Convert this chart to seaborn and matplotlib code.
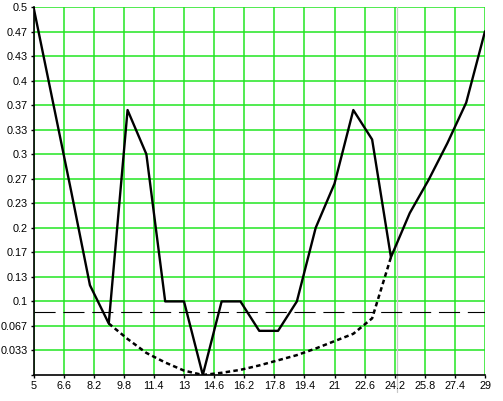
import numpy as np
import pandas as pd
import matplotlib
matplotlib.use("Agg")
import matplotlib.pyplot as plt
import seaborn as sns

# ---- data ----
x_solid = [5, 6, 7, 8, 9, 10, 11, 12, 13, 14, 15, 16, 17, 18, 19, 20, 21, 22, 23, 24, 25, 26, 27, 28, 29]
y_solid = [0.5, 0.375, 0.25, 0.122, 0.07, 0.36, 0.3, 0.1, 0.1, 0.0, 0.1, 0.1, 0.06, 0.06, 0.1,
           0.2, 0.26, 0.36, 0.32, 0.16, 0.22, 0.265, 0.315, 0.37, 0.467]

x_dotted = [9, 10, 11, 12, 13, 14, 15, 16, 17, 18, 19, 20, 21, 22, 23, 24]
y_dotted = [0.07, 0.049, 0.03, 0.017, 0.006, 0.0, 0.003, 0.007, 0.013, 0.02, 0.027,
            0.036, 0.046, 0.056, 0.077, 0.16]

threshold = 0.085
marker_x = 24.3

x_ticks = [5, 6.6, 8.2, 9.8, 11.4, 13, 14.6, 16.2, 17.8, 19.4, 21, 22.6, 24.2, 25.8, 27.4, 29]
x_tick_labels = ["5", "6.6", "8.2", "9.8", "11.4", "13", "14.6", "16.2", "17.8", "19.4",
                 "21", "22.6", "24.2", "25.8", "27.4", "29"]
y_ticks = [0, 1/30, 2/30, 3/30, 4/30, 5/30, 6/30, 7/30, 8/30, 9/30, 10/30, 11/30, 12/30, 13/30, 14/30, 15/30]
y_tick_labels = ["", "0.033", "0.067", "0.1", "0.13", "0.17", "0.2", "0.23", "0.27", "0.3",
                 "0.33", "0.37", "0.4", "0.43", "0.47", "0.5"]

sns.set_style("white")
plt.rcParams['font.family'] = ['Liberation Sans', 'DejaVu Sans']

fig = plt.figure(figsize=(5.03, 4.01), dpi=100)
ax = fig.add_axes([33.5/503, 26/401, (485-33.5)/503, (375-7)/401])

df_s = pd.DataFrame({"x": x_solid, "y": y_solid})
df_d = pd.DataFrame({"x": x_dotted, "y": y_dotted})

grid_color = "#22e622"
for xt in x_ticks:
    ax.axvline(xt, color=grid_color, lw=1.1, zorder=0)
for yt in y_ticks[1:]:
    ax.axhline(yt, color=grid_color, lw=1.1, zorder=0)

ax.axvline(marker_x, ymin=-0.045, ymax=1, color="#c8c8c8", lw=0.9, zorder=0.5, clip_on=False)

ax.axhline(threshold, color="black", lw=0.8, dashes=(19, 7), zorder=2)

sns.lineplot(data=df_s, x="x", y="y", ax=ax, color="black", lw=1.7, estimator=None,
             sort=False, zorder=3)
sns.lineplot(data=df_d, x="x", y="y", ax=ax, color="black", lw=1.8, estimator=None,
             sort=False, zorder=3, dashes=False)
ax.lines[-1].set_dashes((1.8, 1.3))

ax.set_xlim(5, 29)
ax.set_ylim(0, 0.5)
ax.set_xticks(x_ticks)
ax.set_xticklabels(x_tick_labels)
ax.set_yticks(y_ticks)
ax.set_yticklabels(y_tick_labels)
ax.set_xlabel("")
ax.set_ylabel("")

for s in ["top", "right"]:
    ax.spines[s].set_visible(False)
for s in ["left", "bottom"]:
    ax.spines[s].set_color("black")
    ax.spines[s].set_linewidth(1.2)
    ax.spines[s].set_zorder(4)

ax.tick_params(axis="both", direction="out", length=2.5, width=1, color="black",
               labelsize=7.8, pad=1.5, labelcolor="black")
ax.tick_params(axis="x", bottom=True)
ax.tick_params(axis="y", left=True)

fig.savefig("out.png", dpi=100)
